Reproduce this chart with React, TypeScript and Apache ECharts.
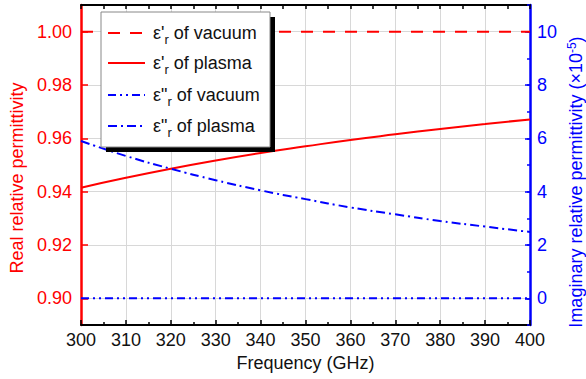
import React, { useEffect, useRef } from "react";
import * as echarts from "echarts";

const freq = [300, 310, 320, 330, 340, 350, 360, 370, 380, 390, 400];
const realVacuum = [1, 1, 1, 1, 1, 1, 1, 1, 1, 1, 1];
const realPlasma = [0.9415, 0.9452, 0.9486, 0.9517, 0.9545, 0.957, 0.9594, 0.9615, 0.9635, 0.9654, 0.9671];
const imagVacuum = [0, 0, 0, 0, 0, 0, 0, 0, 0, 0, 0];
const imagPlasma = [5.9, 5.34, 4.86, 4.43, 4.05, 3.72, 3.41, 3.15, 2.9, 2.69, 2.49];
const leftTicks = [0.9, 0.92, 0.94, 0.96, 0.98, 1.0];
const rightTicks = [0, 2, 4, 6, 8, 10];
const legendNames = [
  ["ε'", "of vacuum"],
  ["ε'", "of plasma"],
  ['ε"', "of vacuum"],
  ['ε"', "of plasma"],
];

const RED = "#ff0000";
const BLUE = "#0000ff";
const FONT = "'Liberation Sans', Arial, sans-serif";

const DASH_VAC = [12, 10];
const DASH_DOTDOT = [8, 4, 2, 4, 2, 4];
const DASH_DOT = [9, 4, 2, 4];

const pairs = (ys: number[]) => freq.map((f, i) => [f, ys[i]]);

export default function App() {
  const ref = useRef<HTMLDivElement>(null);
  useEffect(() => {
    document.body.style.margin = "0";
    const chart = echarts.init(ref.current!, null, { renderer: "svg" });
    const lineStyles = [
      { color: RED, type: DASH_VAC },
      { color: RED, type: "solid" },
      { color: BLUE, type: DASH_DOTDOT },
      { color: BLUE, type: DASH_DOT },
    ];
    const legendY = [33, 63, 95, 126];
    const graphics: any[] = [
      { type: "rect", shape: { x: 106, y: 17, width: 169, height: 135 }, style: { fill: "#000" }, z: 100 },
      { type: "rect", shape: { x: 101, y: 12, width: 169, height: 135 }, style: { fill: "#fff", stroke: "#888", lineWidth: 1 }, z: 101 },
    ];
    legendNames.forEach((n, i) => {
      graphics.push({
        type: "line",
        shape: { x1: 108, y1: legendY[i], x2: 145, y2: legendY[i] },
        style: { stroke: lineStyles[i].color, lineWidth: 2, lineDash: lineStyles[i].type === "solid" ? null : lineStyles[i].type },
        z: 102,
      });
      graphics.push({
        type: "text",
        x: 153,
        y: legendY[i],
        z: 102,
        style: {
          text: `{m|${n[0]}}{s|r}{m| ${n[1]}}`,
          verticalAlign: "middle",
          align: "left",
          rich: {
            m: { fontSize: 18, fontFamily: FONT, fill: "#111" },
            s: { fontSize: 13, fontFamily: FONT, fill: "#111", padding: [12, 0, 0, 0] },
          },
        },
      });
    });
    graphics.push({
      type: "text",
      x: 576,
      y: 182,
      rotation: Math.PI / 2,
      z: 50,
      style: {
        text: "{a|Imaginary relative permittivity (×10}{s|-5}{a|)}",
        align: "center",
        verticalAlign: "middle",
        rich: {
          a: { fontSize: 18, fill: BLUE, fontFamily: FONT },
          s: { fontSize: 12, fill: BLUE, fontFamily: FONT, padding: [0, 0, 8, 0] },
        },
      },
    });

    chart.setOption({
      animation: false,
      textStyle: { fontFamily: FONT },
      grid: { left: 81, right: 56, top: 5, bottom: 54, containLabel: false, outerBoundsMode: "none" },
      xAxis: [
        {
          type: "value",
          position: "bottom",
          min: 300,
          max: 400,
          interval: 10,
          name: "Frequency (GHz)",
          nameLocation: "middle",
          nameGap: 29,
          nameTextStyle: { fontSize: 18, color: "#111", fontFamily: FONT },
          axisLine: { onZero: false, lineStyle: { color: "#000", width: 2 } },
          axisTick: { inside: true, length: 5, lineStyle: { color: "#000", width: 1.5 } },
          minorTick: { show: true, splitNumber: 2, length: 3, lineStyle: { color: "#000", width: 1.5 } },
          axisLabel: { fontSize: 18, color: "#111", margin: 6, fontFamily: FONT },
          splitLine: { show: true, lineStyle: { color: "#d8d8d8", width: 1 } },
        },
        {
          type: "value",
          position: "top",
          min: 300,
          max: 400,
          interval: 10,
          axisLine: { onZero: false, lineStyle: { color: "#000", width: 2 } },
          axisTick: { inside: true, length: 4, lineStyle: { color: "#000", width: 1.5 } },
          minorTick: { show: true, splitNumber: 2, length: 4, lineStyle: { color: "#000", width: 1.5 } },
          axisLabel: { show: false },
          splitLine: { show: false },
        },
      ],
      yAxis: [
        {
          type: "value",
          position: "left",
          min: 0.89,
          max: 1.01,
          name: "Real relative permittivity",
          nameLocation: "middle",
          nameRotate: 90,
          nameGap: 53,
          nameTextStyle: { fontSize: 18, color: RED, fontFamily: FONT, padding: [0, 26, 0, 0] },
          axisLine: { onZero: false, lineStyle: { color: RED, width: 2.5 } },
          axisTick: { inside: true, length: 7, customValues: leftTicks, lineStyle: { color: RED, width: 1.5 } },
          axisLabel: {
            fontSize: 18,
            color: RED,
            margin: 9,
            fontFamily: FONT,
            customValues: leftTicks,
            formatter: (v: number) => v.toFixed(2),
          },
          splitLine: { show: true, lineStyle: { color: "#d8d8d8", width: 1 } },
        },
        {
          type: "value",
          position: "right",
          min: -1,
          max: 11,
          axisLine: { onZero: false, lineStyle: { color: BLUE, width: 2.5 } },
          axisTick: { inside: true, length: 5, customValues: rightTicks, lineStyle: { color: BLUE, width: 1.5 } },
          axisLabel: { fontSize: 18, color: BLUE, margin: 7, fontFamily: FONT, customValues: rightTicks },
          splitLine: { show: false },
        },
        {
          type: "value",
          position: "right",
          min: -1,
          max: 11,
          interval: 1,
          axisLine: { show: false, onZero: false },
          axisTick: { inside: true, length: 3, lineStyle: { color: BLUE, width: 1.5 } },
          axisLabel: { show: false },
          splitLine: { show: false },
        },
      ],
      series: [
        {
          name: "ε'r of vacuum",
          type: "line",
          yAxisIndex: 0,
          data: pairs(realVacuum),
          symbol: "none",
          lineStyle: { color: RED, width: 2, type: DASH_VAC },
          z: 3,
        },
        {
          name: "ε'r of plasma",
          type: "line",
          yAxisIndex: 0,
          data: pairs(realPlasma),
          symbol: "none",
          smooth: true,
          lineStyle: { color: RED, width: 2, type: "solid" },
          z: 3,
        },
        {
          name: 'ε"r of vacuum',
          type: "line",
          yAxisIndex: 1,
          data: pairs(imagVacuum),
          symbol: "none",
          lineStyle: { color: BLUE, width: 2, type: DASH_DOTDOT },
          z: 3,
        },
        {
          name: 'ε"r of plasma',
          type: "line",
          yAxisIndex: 1,
          data: pairs(imagPlasma),
          symbol: "none",
          smooth: true,
          lineStyle: { color: BLUE, width: 2, type: DASH_DOT },
          z: 3,
        },
      ],
      graphic: graphics,
    });
    return () => chart.dispose();
  }, []);
  return <div ref={ref} style={{ width: 586, height: 379 }} />;
}
